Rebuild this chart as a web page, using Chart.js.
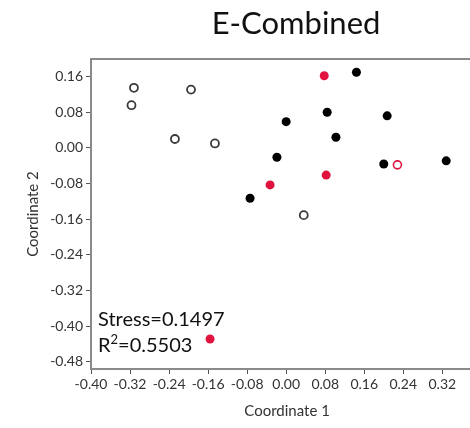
<!DOCTYPE html>
<html>
<head>
<meta charset="utf-8" />
<script src="https://cdn.jsdelivr.net/npm/chart.js"></script>
<style>
  html, body { margin: 0; padding: 0; background: #fff; overflow: hidden; }
  #wrap { position: relative; width: 470px; height: 428px; overflow: hidden; }
  #title {
    position: absolute; top: 3px; left: 196px; width: 200px; text-align: center;
    font-family: Lato, "Open Sans", sans-serif; font-size: 31px; color: #111;
  }
  canvas { position: absolute; left: 0; top: 0; }
</style>
</head>
<body>
<div id="wrap">
  <!-- wider than the window: the plot runs off the right edge like the original -->
  <canvas id="nmds" width="489" height="428"></canvas>
  <div id="title">E-Combined</div>
</div>

<script>
  // NMDS points, [coord1, coord2]
  const openBlack = [[-0.312, 0.135], [-0.317, 0.096], [-0.195, 0.131], [-0.228, 0.020], [-0.146, 0.010], [0.036, -0.151]];
  const filledBlack = [[0.144, 0.170], [0.084, 0.080], [0.207, 0.072], [0.000, 0.059], [0.102, 0.024],
                       [-0.019, -0.021], [0.200, -0.036], [0.328, -0.029], [-0.074, -0.113]];
  const filledRed = [[0.078, 0.162], [-0.033, -0.083], [0.082, -0.061], [-0.156, -0.429]];
  const openRed = [[0.228, -0.038]];

  const xTicks = [-0.40, -0.32, -0.24, -0.16, -0.08, 0.00, 0.08, 0.16, 0.24, 0.32];
  const yTicks = [0.16, 0.08, 0.00, -0.08, -0.16, -0.24, -0.32, -0.40, -0.48];

  const stressText = "Stress=0.1497";
  const r2Value = "0.5503";

  const RED = "#e0133f";
  const FONT = "Lato, 'Open Sans', sans-serif";
  const pts = (arr) => arr.map(([x, y]) => ({ x, y }));

  // top frame line and the stress / R² note
  const extras = {
    id: "extras",
    afterDraw(chart) {
      const { ctx, chartArea } = chart;
      ctx.save();
      ctx.strokeStyle = "#8a8a8a";
      ctx.lineWidth = 2;
      ctx.beginPath();
      ctx.moveTo(chartArea.left - 1, chartArea.top);
      ctx.lineTo(chartArea.right, chartArea.top);
      ctx.stroke();

      ctx.fillStyle = "#111";
      ctx.textBaseline = "alphabetic";
      ctx.font = "20px " + FONT;
      const x0 = chartArea.left + 7;
      ctx.fillText(stressText, x0, chartArea.bottom - 43);
      const yb = chartArea.bottom - 17;
      ctx.fillText("R", x0, yb);
      let x = x0 + ctx.measureText("R").width;
      ctx.font = "13px " + FONT;
      ctx.fillText("2", x, yb - 8);
      x += ctx.measureText("2").width;
      ctx.font = "20px " + FONT;
      ctx.fillText("=" + r2Value, x, yb);
      ctx.restore();
    }
  };

  const tickFont = { family: FONT, size: 14 };
  const titleFont = { family: FONT, size: 15 };

  new Chart(document.getElementById("nmds"), {
    type: "scatter",
    data: {
      datasets: [
        { label: "open", data: pts(openBlack), pointRadius: 4, pointBorderWidth: 1.8,
          borderColor: "#3a3a3a", backgroundColor: "#fff" },
        { label: "filled", data: pts(filledBlack), pointRadius: 4.5, pointBorderWidth: 0,
          borderColor: "#000", backgroundColor: "#000" },
        { label: "red", data: pts(filledRed), pointRadius: 4.5, pointBorderWidth: 0,
          borderColor: RED, backgroundColor: RED },
        { label: "red open", data: pts(openRed), pointRadius: 4, pointBorderWidth: 1.6,
          borderColor: RED, backgroundColor: "#fff" }
      ]
    },
    options: {
      responsive: false,
      animation: false,
      devicePixelRatio: 1,
      layout: { padding: { top: 59, left: 0, right: 0, bottom: 0 } },
      plugins: { legend: { display: false }, tooltip: { enabled: false } },
      scales: {
        x: {
          type: "linear",
          min: -0.40, max: 0.4038,
          afterFit: (s) => { s.height = 59; },
          afterBuildTicks: (s) => { s.ticks = xTicks.map((v) => ({ value: v })); },
          ticks: { font: tickFont, color: "#333", padding: 2, maxRotation: 0, autoSkip: false,
                   callback: (v) => v.toFixed(2) },
          grid: { drawOnChartArea: false, drawTicks: true, tickLength: 5, color: "#555" },
          border: { display: true, color: "#8a8a8a", width: 2 },
          title: { display: true, text: "Coordinate 1", font: titleFont, color: "#333",
                   padding: { top: 0, bottom: 8 } }
        },
        y: {
          type: "linear",
          min: -0.4965, max: 0.1997,
          afterFit: (s) => { s.width = 91; },
          afterBuildTicks: (s) => { s.ticks = yTicks.map((v) => ({ value: v })); },
          ticks: { font: tickFont, color: "#333", padding: 3, autoSkip: false,
                   callback: (v) => v.toFixed(2) },
          grid: { drawOnChartArea: false, drawTicks: true, tickLength: 5, color: "#555" },
          border: { display: true, color: "#8a8a8a", width: 2 },
          title: { display: true, text: "Coordinate 2", font: titleFont, color: "#333",
                   padding: { top: 24, bottom: 0 } }
        }
      }
    },
    plugins: [extras]
  });
</script>
</body>
</html>
